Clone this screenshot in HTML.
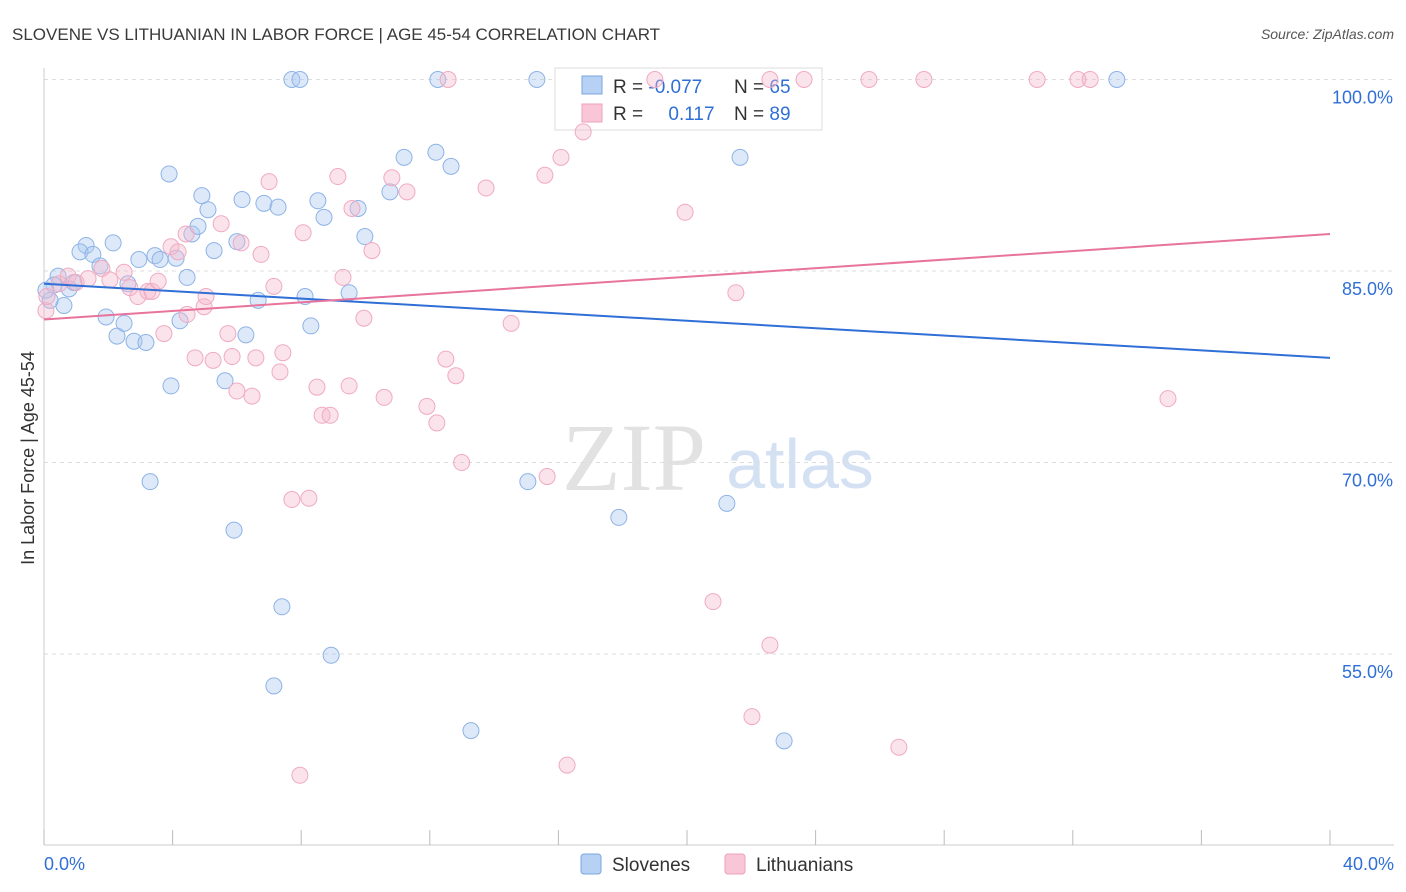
<!DOCTYPE html>
<html><head><meta charset="utf-8"><style>
body{margin:0;background:#fff;font-family:"Liberation Sans",sans-serif;}
</style></head><body>
<svg id="c" width="1406" height="892" style="display:block">
<text x="12" y="40" font-size="17" fill="#3a3a3a">SLOVENE VS LITHUANIAN IN LABOR FORCE | AGE 45-54 CORRELATION CHART</text>
<text x="1394" y="39" font-size="14" fill="#555" font-style="italic" text-anchor="end">Source: ZipAtlas.com</text>
<text transform="translate(34,458) rotate(-90)" font-size="18" fill="#333" text-anchor="middle">In Labor Force | Age 45-54</text>
<g><text x="634" y="490" font-size="96" fill="#e2e2e2" font-family="Liberation Serif,serif" text-anchor="middle">ZIP</text><text x="800" y="488" font-size="70" fill="#d3e1f3" text-anchor="middle">atlas</text></g>
<g id="grid"></g>
<g>
<rect x="555" y="68" width="267" height="62" fill="#fff" stroke="#ddd"/>
<rect x="582" y="76" width="20" height="18" fill="#b7d1f4" stroke="#7aa6e0"/>
<rect x="582" y="104" width="20" height="18" fill="#f8c6d6" stroke="#eea0ba"/>
<text x="613" y="93" font-size="19" fill="#333">R = <tspan fill="#2f6fd6">-0.077</tspan></text>
<text x="734" y="93" font-size="19" fill="#333">N = <tspan fill="#2f6fd6">65</tspan></text>
<text x="613" y="120" font-size="19" fill="#333">R = <tspan fill="#2f6fd6" dx="20">0.117</tspan></text>
<text x="734" y="120" font-size="19" fill="#333">N = <tspan fill="#2f6fd6">89</tspan></text>
</g>
<g id="pts"></g><g id="lines"></g>
<g>
<rect x="581" y="854" width="20" height="20" rx="3" fill="#b7d1f4" stroke="#7aa6e0"/>
<text x="612" y="871" font-size="19" fill="#333">Slovenes</text>
<rect x="725" y="854" width="20" height="20" rx="3" fill="#f8c6d6" stroke="#eea0ba"/>
<text x="756" y="871" font-size="19" fill="#333">Lithuanians</text>
</g>
</svg>
<script>
const blueX=[7.71,7.96,12.25,15.33,33.37,3.89,4.91,5.10,6.16,6.84,7.28,8.52,8.71,9.77,10.76,11.20,12.19,12.66,21.65,1.31,1.12,2.15,1.52,1.74,2.95,3.45,3.61,4.11,4.60,4.79,5.29,6.00,4.45,0.44,0.31,0.78,0.93,2.61,0.62,1.93,2.49,2.27,2.80,3.17,4.23,6.28,6.66,8.12,8.30,9.49,9.98,3.95,5.63,3.30,5.91,7.40,7.15,8.93,13.28,15.05,17.88,21.24,23.02,0.19,0.06];
const blueY=[100,100,100,100,100,92.6,90.9,89.8,90.6,90.3,90.0,90.5,89.2,89.9,91.2,93.9,94.3,93.2,93.9,87.0,86.5,87.2,86.3,85.4,85.9,86.2,85.9,86.0,87.9,88.5,86.6,87.3,84.5,84.6,83.9,83.6,84.1,84.0,82.3,81.4,80.9,79.9,79.5,79.4,81.1,80.0,82.7,83.0,80.7,83.3,87.7,76.0,76.4,68.5,64.7,58.7,52.5,54.9,49.0,68.5,65.7,66.8,48.2,82.7,83.5];
const pinkX=[12.57,19.00,22.58,23.64,25.66,27.37,30.89,32.16,32.54,16.77,16.08,15.58,13.75,10.82,11.29,9.14,9.58,7.00,5.51,4.42,3.95,4.17,6.13,6.75,8.06,10.20,9.30,7.15,19.94,21.52,14.53,34.96,0.47,0.75,1.00,1.37,1.80,2.05,2.49,2.67,2.92,3.23,3.36,3.55,4.98,5.04,4.45,3.73,4.70,5.26,5.72,5.85,6.59,7.43,7.34,6.00,6.47,8.49,9.49,8.65,8.90,10.58,11.91,12.22,12.50,12.81,12.99,7.71,8.24,15.65,20.81,22.58,22.02,26.59,7.96,16.27,9.95,0.06,0.09];
const pinkY=[100,100,100,100,100,100,100,100,100,95.9,93.9,92.5,91.5,92.3,91.2,92.4,89.9,92.0,88.7,87.9,86.9,86.5,87.2,86.3,88.0,86.6,84.5,83.8,89.6,83.3,80.9,75.0,84.0,84.6,84.1,84.4,85.2,84.3,84.9,83.7,83.0,83.4,83.4,84.2,82.2,83.0,81.6,80.1,78.2,78.0,80.1,78.3,78.2,78.6,77.1,75.6,75.2,75.9,76.0,73.7,73.7,75.1,74.4,73.1,78.1,76.8,70.0,67.1,67.2,68.9,59.1,55.7,50.1,47.7,45.5,46.3,81.3,81.9,83.0];
const blueTrend=[84.0,78.2];
const pinkTrend=[81.2,87.9];
const yTicks=[100,85,70,55];
const xTicks=[0,4,8,12,16,20,24,28,32,36,40];
const NS='http://www.w3.org/2000/svg';
const X=v=>44+v/40*1286, Y=v=>79.5+(100-v)*12.767;
function mk(tag,at,parent){const e=document.createElementNS(NS,tag);for(const k in at)e.setAttribute(k,at[k]);parent.appendChild(e);return e;}
const g=document.getElementById('grid'),p=document.getElementById('pts'),l=document.getElementById('lines');
yTicks.forEach(t=>{const ln=mk('line',{x1:44,x2:1394,y1:Y(t),y2:Y(t),stroke:'#ddd','stroke-dasharray':'4,4'},g);


const tx=mk('text',{x:1393,y:Y(t)+24,'font-size':18,fill:'#2f6fd6','text-anchor':'end'},g);tx.textContent=t.toFixed(1)+'%';

});
const ax=mk('line',{x1:44,x2:44,y1:68,y2:845,stroke:'#ccc'},g);


const bx=mk('line',{x1:44,x2:1394,y1:845,y2:845,stroke:'#ccc'},g);


xTicks.forEach(t=>{const tk=mk('line',{x1:X(t),x2:X(t),y1:830,y2:845,stroke:'#bbb'},g);

});
[[0,'start',44],[40,'end',1394]].forEach(([v,a,x])=>{const tx=mk('text',{x:x,y:870,'font-size':18,fill:'#2f6fd6','text-anchor':a},g);tx.textContent=v.toFixed(1)+'%';

});
function dots(xs,ys,fill,stroke,name){xs.forEach((v,i)=>{const c=mk('circle',{cx:X(v),cy:Y(ys[i]),r:8,fill:fill,'fill-opacity':0.4,stroke:stroke,'stroke-width':1},p);

});}
dots(blueX,blueY,'#a9c8f0','#8db3e6','slovene-point');
dots(pinkX,pinkY,'#f5b8cc','#f0aac2','lithuanian-point');
const bl=mk('line',{x1:X(0),x2:X(40),y1:Y(blueTrend[0]),y2:Y(blueTrend[1]),stroke:'#2f6fd6','stroke-width':2},l);


const pl=mk('line',{x1:X(0),x2:X(40),y1:Y(pinkTrend[0]),y2:Y(pinkTrend[1]),stroke:'#e8739c','stroke-width':2},l);


</script>
</body></html>
